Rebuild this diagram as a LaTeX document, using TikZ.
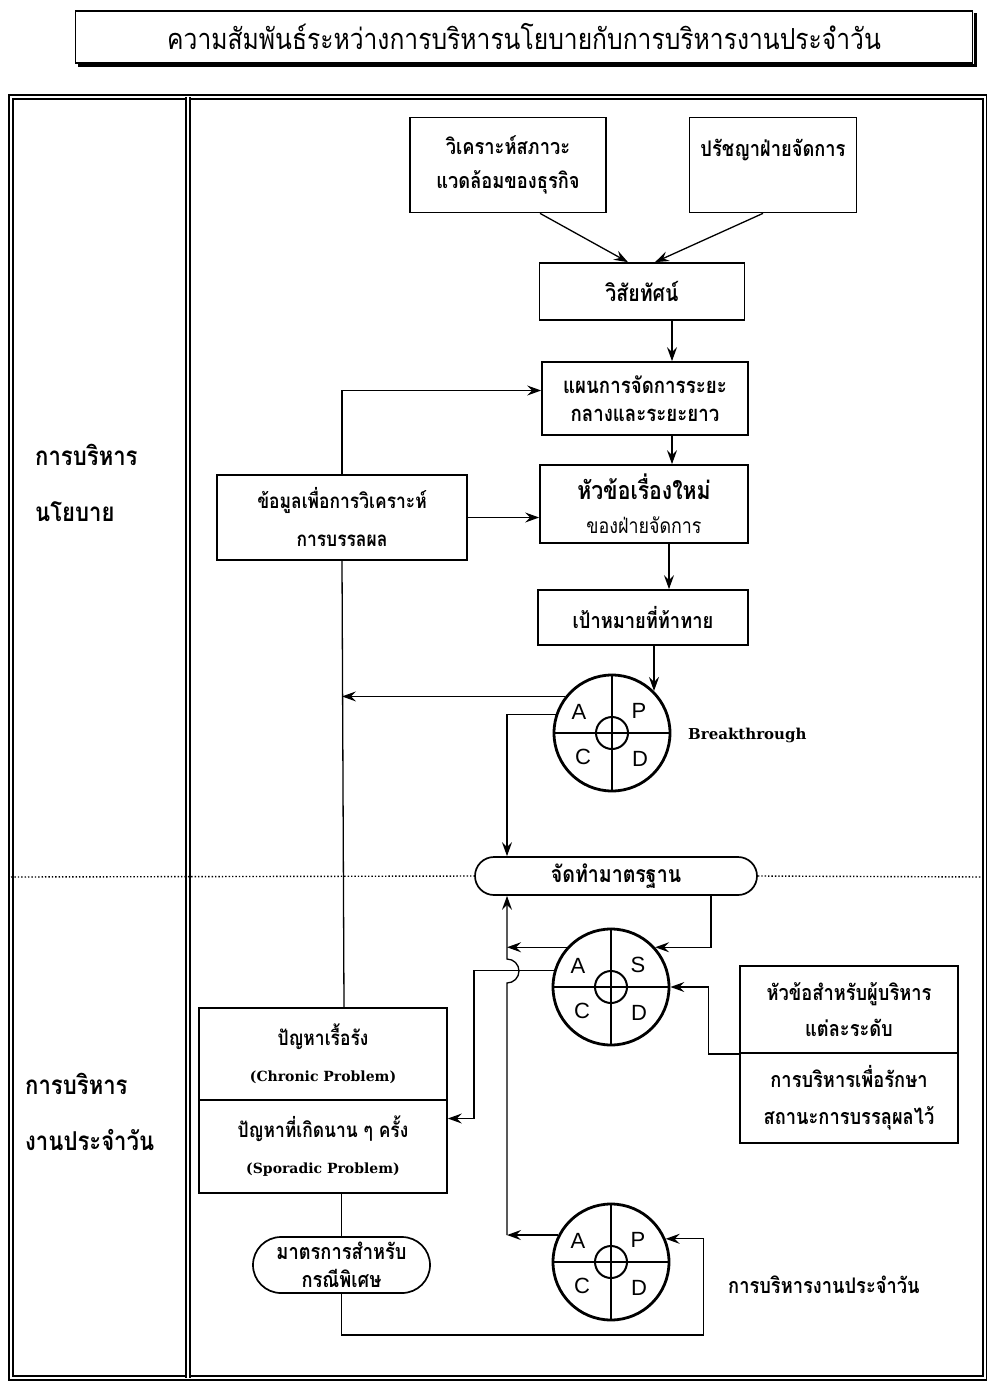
\documentclass[tikz,border=0pt]{standalone}
\usepackage{fontspec}
\usetikzlibrary{arrows.meta,shapes.misc,calc}
\newfontfamily\thai[Script=Thai,FakeStretch=0.85]{Loma}
\newfontfamily\lat{DejaVu Serif}
\newfontfamily\sansf{Liberation Sans}
\newcommand\fs[2]{\fontsize{#1}{#2}\selectfont}
\tikzset{
  box/.style={draw, line width=1.7pt, fill=white, align=center, inner sep=0pt,
    font=\thai\bfseries\fs{21.5}{34}},
  oval/.style={box, rounded rectangle},
  arr/.style={-{Stealth[length=14pt,width=10pt,inset=5pt]}, line width=1.3pt},
  con/.style={line width=1.3pt},
  pdca/.style={circle, draw, line width=2.8pt, minimum size=116pt, inner sep=0pt},
  letter/.style={font=\sansf\fs{22}{22}, inner sep=0pt},
  frame/.style={double, double distance=2.5pt, line width=1.3pt},
  side/.style={font=\thai\bfseries\fs{26}{56}, align=left, anchor=west, inner sep=0pt},
  tag/.style={anchor=west, inner sep=0pt}
}
\newcommand\pdcaparts[3]{%
  \draw[line width=2.8pt] (#1.north) -- (#1.south) (#1.west) -- (#1.east);
  \draw[line width=2pt] (#1) circle[radius=16pt];
  \node[letter] (#1A) at ([xshift=-33pt,yshift=21pt]#1) {A};
  \node[letter] (#1B) at ([xshift=27pt,yshift=22pt]#1) {#2};
  \node[letter] (#1C) at ([xshift=-29pt,yshift=-24pt]#1) {C};
  \node[letter] (#1D) at ([xshift=28pt,yshift=-26pt]#1) {#3};
}
\begin{document}
\begin{tikzpicture}[x=1pt,y=-1pt]
\useasboundingbox (0,0) rectangle (987,1382);

% title
\node[draw, line width=1.6pt, minimum width=897pt, minimum height=52pt, inner sep=0pt,
  font=\thai\fs{29}{29}] (title) at (524,37)
  {ความสัมพันธ์ระหว่างการบริหารนโยบายกับการบริหารงานประจำวัน};
\draw[line width=3pt] ([xshift=2pt,yshift=-3pt]title.north east) -- ([xshift=2pt,yshift=-2pt]title.south east)
  -- ([xshift=3pt,yshift=-2pt]title.south west);

% frame
\draw[frame] (11,97) rectangle (985,1378);
\draw[frame] (188,97) -- (188,1378);

\node[side] (lab1) at (35,483) {การบริหาร\\นโยบาย};
\node[side] (lab2) at (25,1112) {การบริหาร\\งานประจำวัน};

% boxes
\node[box, minimum width=196pt, minimum height=95pt] (box1) at (508,165) {วิเคราะห์สภาวะ\\แวดล้อมของธุรกิจ};
\node[box, minimum width=167pt, minimum height=95pt] (box2) at (773,165) {ปรัชญาฝ่ายจัดการ\\\phantom{ป}};
\node[box, minimum width=205pt, minimum height=57pt, font=\thai\bfseries\fs{23}{23}] (box3) at (642,291.5) {วิสัยทัศน์};
\node[box, minimum width=206pt, minimum height=73pt, font=\thai\bfseries\fs{22}{28}] (box4) at (645,398.5) {แผนการจัดการระยะ\\กลางและระยะยาว};
\node[box, minimum width=250pt, minimum height=85pt, font=\thai\bfseries\fs{20.5}{38}] (box5) at (342,517.5) {ข้อมูลเพื่อการวิเคราะห์\\การบรรลผล};
\node[box, minimum width=208pt, minimum height=78pt, font=\thai\bfseries\fs{25}{34}] (box6) at (644,504) {หัวข้อเรื่องใหม่\\{\mdseries\fs{21}{21}ของฝ่ายจัดการ}};
\node[box, minimum width=210pt, minimum height=55pt] (box7) at (643,617.5) {เป้าหมายที่ท้าทาย};
\node[oval, minimum width=282pt, minimum height=38pt, font=\thai\bfseries\fs{23}{23}] (oval1) at (616,876) {จัดทำมาตรฐาน};
\node[box, minimum width=218pt, minimum height=87pt, font=\thai\bfseries\fs{21.5}{36}] (top) at (849,1009.5) {หัวข้อสำหรับผู้บริหาร\\แต่ละระดับ};
\node[box, minimum width=218pt, minimum height=90pt, font=\thai\bfseries\fs{21.5}{37}] (bottom) at (849,1098) {การบริหารเพื่อรักษา\\สถานะการบรรลุผลไว้};
\node[box, minimum width=248pt, minimum height=92pt, font=\thai\bfseries\fs{20.5}{36}] (chronic) at (323,1054) {ปัญหาเรื้อรัง\\{\lat\fs{14}{14}(Chronic Problem)}};
\node[box, minimum width=248pt, minimum height=93pt, font=\thai\bfseries\fs{20.5}{36}] (sporadic) at (323,1146.5) {ปัญหาที่เกิดนาน ๆ ครั้ง\\{\lat\fs{14}{14}(Sporadic Problem)}};
\node[oval, minimum width=177pt, minimum height=56pt, font=\thai\bfseries\fs{21.5}{28}] (oval2) at (341.5,1265) {มาตรการสำหรับ\\กรณีพิเศษ};

% PDCA circles
\node[pdca] (c1) at (612,733) {};
\node[pdca] (c2) at (611,987) {};
\node[pdca] (c3) at (611,1262) {};
\pdcaparts{c1}{P}{D}
\pdcaparts{c2}{S}{D}
\pdcaparts{c3}{P}{D}
\node[tag, font=\lat\bfseries\fs{15}{15}] (bt) at (688,735) {Breakthrough};
\node[tag, font=\thai\bfseries\fs{21.5}{21.5}] (daily) at (728,1285) {การบริหารงานประจำวัน};

% dotted divider
\draw[dotted, line width=1.4pt] (11,877) -- (oval1.west);
\draw[dotted, line width=1.4pt] (oval1.east) -- (985,877);

% connectors
\draw[arr] ([xshift=32pt]box1.south) -- ([xshift=-14pt]box3.north);
\draw[arr] ([xshift=-10pt]box2.south) -- ([xshift=13pt]box3.north);
\draw[arr] ([xshift=30pt]box3.south) -- ([xshift=30pt]box3.south |- box4.north);
\draw[arr] ([xshift=27pt]box4.south) -- ([xshift=27pt]box4.south |- box6.north);
\draw[arr] ([xshift=25pt]box6.south) -- ([xshift=25pt]box6.south |- box7.north);
\draw[arr] (c1.45 |- box7.south) -- (c1.45);
\draw[con] ([xshift=21pt]chronic.north) -- (box5.south);
\draw[arr] (box5.north) |- ([yshift=8pt]box4.west);
\draw[arr] (box5.east) -- (box5.east -| box6.west);
\draw[arr] (c1.142) -- (c1.142 -| box5.south);
\draw[arr] (c1.162) -| ([xshift=-109pt]oval1.north);
\draw[arr] ([xshift=95pt]oval1.south) |- (c2.42);
\coordinate (J) at (507,971);
\draw[arr] (c2.138) -- (c2.138 -| J);
\draw[arr] (c2.164) -| ([xshift=26pt,yshift=28pt]sporadic.east) -- ([yshift=28pt]sporadic.east);
\draw[arr] (c3.153 -| J) -- ([yshift=-12pt]J) arc[start angle=-90,end angle=90,radius=12pt] -- (J |- oval1.south);
\draw[arr] (c3.153) -- (c3.153 -| J);
\draw[arr] (top.south west) -| ([xshift=38pt]c2.east) -- (c2.east);
\draw[con] (oval2.north |- sporadic.south) -- (oval2.north);
\draw[arr] (oval2.south) -- ++(0,41) -| ([xshift=38pt]c3.23) -- (c3.23);
\end{tikzpicture}
\end{document}
